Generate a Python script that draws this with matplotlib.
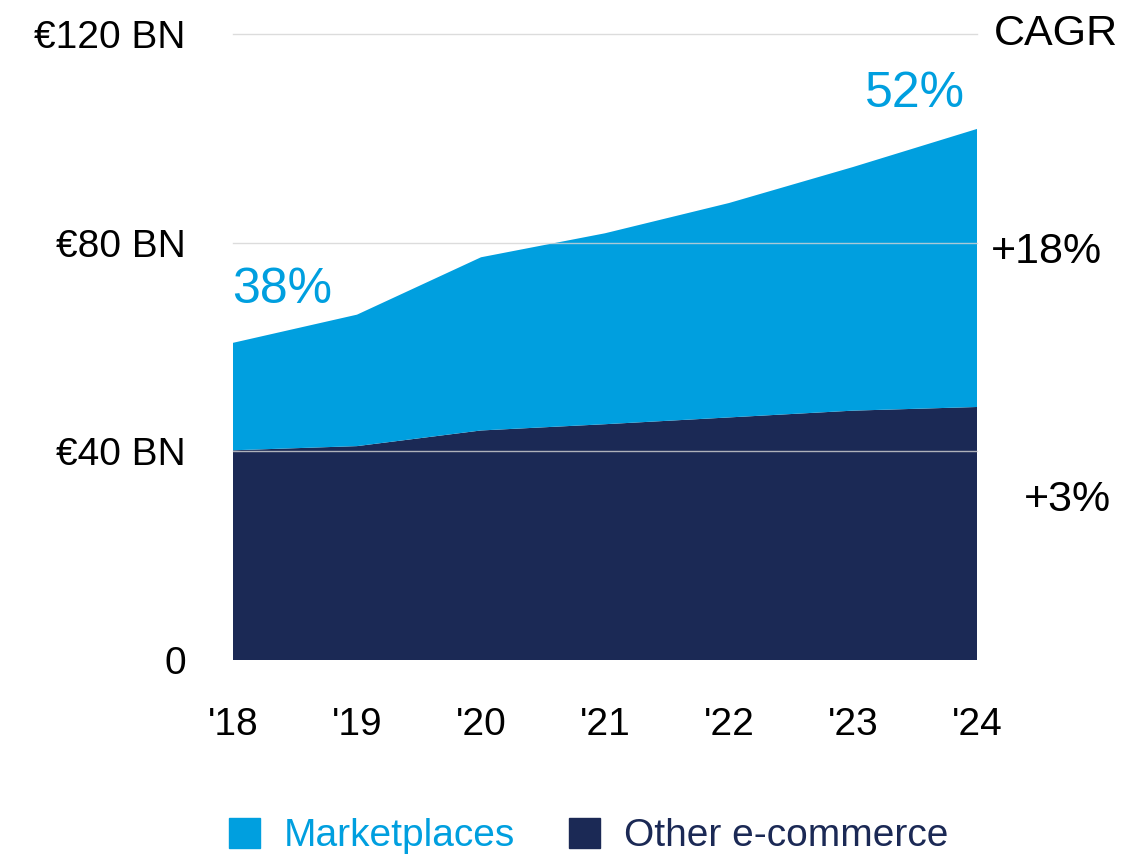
import numpy as np
import matplotlib.pyplot as plt
from matplotlib.patches import Patch

plt.rcParams['font.family'] = ['Liberation Sans', 'DejaVu Sans']

# data (EUR bn)
years = ["'18", "'19", "'20", "'21", "'22", "'23", "'24"]
other = [40.2, 41.0, 44.0, 45.2, 46.5, 47.8, 48.5]
total = [60.8, 66.2, 77.2, 81.8, 87.6, 94.5, 101.8]
marketplaces = [t - o for t, o in zip(total, other)]

share_labels = ["38%", "52%"]
cagr_labels = ["+18%", "+3%"]
yticks = [0, 40, 80, 120]
ytick_labels = ["0", "€40 BN", "€80 BN", "€120 BN"]

light_blue = "#009fdf"
navy = "#1b2955"

fig = plt.figure(figsize=(11.47, 8.55), dpi=100)
ax = fig.add_axes([233 / 1147, 1 - 660 / 855, (977 - 233) / 1147, (660 - 34) / 855])

x = np.arange(len(years))
ax.stackplot(x, other, marketplaces, colors=[navy, light_blue], linewidth=0)

ax.set_xlim(0, len(years) - 1)
ax.set_ylim(0, 120)
ax.set_yticks(yticks)
ax.set_yticklabels(ytick_labels, fontsize=28)
ax.set_xticks(x)
ax.set_xticklabels(years, fontsize=28)
ax.tick_params(axis="y", length=0, pad=34)
ax.tick_params(axis="x", length=0, pad=34)
for s in ax.spines.values():
    s.set_visible(False)
for yv in yticks[1:]:
    ax.axhline(yv, color="#d4d4d4", lw=1, alpha=0.8, zorder=3, clip_on=False)

# share of marketplaces
ax.text(0.4, 71, share_labels[0], color=light_blue, fontsize=36, ha="center", va="center")
ax.text(5.5, 108.5, share_labels[1], color=light_blue, fontsize=36, ha="center", va="center")

# CAGR column
ax.text(6.64, 120, "CAGR", fontsize=31, ha="center", va="center", clip_on=False)
ax.text(6.56, 78.3, cagr_labels[0], fontsize=31, ha="center", va="center", clip_on=False)
ax.text(6.73, 30.6, cagr_labels[1], fontsize=31, ha="center", va="center", clip_on=False)

handles = [Patch(color=light_blue), Patch(color=navy)]
fig.legend(handles, ["Marketplaces", "Other e-commerce"], loc="center",
           bbox_to_anchor=(0.513, 0.022), ncol=2, frameon=False, fontsize=28,
           labelcolor=[light_blue, navy], handlelength=0.8, handleheight=0.8,
           handletextpad=0.6, columnspacing=1.4)

fig.savefig("out.png", dpi=100)
